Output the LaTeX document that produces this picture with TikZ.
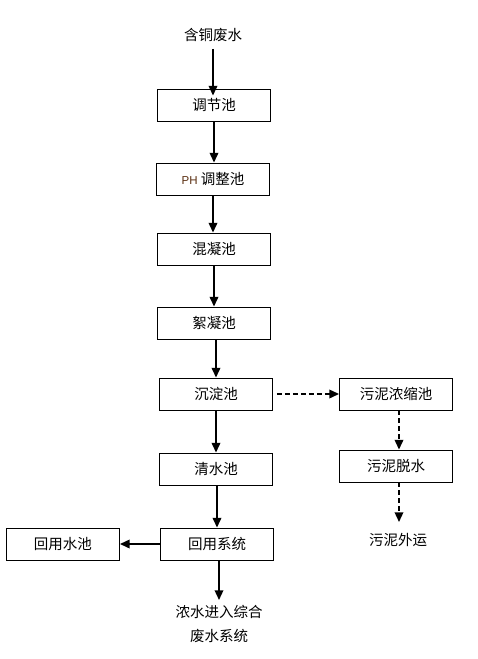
\documentclass[tikz,border=0pt]{standalone}
\usepackage{fontspec}
\setmainfont{Noto Sans CJK SC}
\newfontfamily\latinfont{Liberation Sans}
\usetikzlibrary{
  arrows.meta,
  positioning
}
\definecolor{ink}{HTML}{000000}
\definecolor{phbrown}{HTML}{5A2E10}
\newcommand{\ph}{{\latinfont\fontsize{11.5}{12}\selectfont\color{phbrown}PH}}
\tikzset{
  flow/.style={
    -{Triangle[length=3.4mm,width=3mm]},
    line width=1.7pt,
    draw=ink
  },
  sludgeflow/.style={
    flow,
    dashed,
    dash pattern=on 5pt off 3pt
  },
  tank/.style={
    draw=ink,
    fill=white,
    line width=0.9pt,
    minimum width=113pt,
    minimum height=32pt,
    inner sep=0pt,
    font=\fontsize{14.5}{16}\selectfont
  },
  plain/.style={
    inner sep=0pt,
    align=center,
    font=\fontsize{14.5}{24}\selectfont
  }
}

\begin{document}
\begin{tikzpicture}[x=1pt, y=-1pt]
  \useasboundingbox (0,0) rectangle (477,659);
  \node[plain] (inflow) at (213,35) {含铜废水};
  \node[tank] (adjust) at (214,105) {调节池};
  \node[tank] (phadjust) at (213,179) {\ph\ 调整池};
  \node[tank] (coag) at (214,249) {混凝池};
  \node[tank] (floc) at (214,323) {絮凝池};
  \node[tank] (settle) at (216,394) {沉淀池};
  \node[tank] (clear) at (216,469) {清水池};
  \node[tank] (reuse) at (217,544) {回用系统};
  \node[tank] (reusetank) at (63,544) {回用水池};
  \node[plain] (brine) at (219,624) {浓水进入综合\\废水系统};
  \node[tank] (thicken) at (396,394) {污泥浓缩池};
  \node[tank] (dewater) at (396,466) {污泥脱水};
  \node[plain] (haul) at (398,540) {污泥外运};

  % helper ends for the open arrows
  \coordinate (brinetop) at (219,600);
  \coordinate (haultop) at (399,522);

  \draw[flow] ([yshift=-7pt]inflow.south) -- ([yshift=-7pt]inflow.south |- adjust.north);
  \draw[flow] (adjust.south) -- (adjust.south |- phadjust.north);
  \draw[flow] (phadjust.south) -- (phadjust.south |- coag.north);
  \draw[flow] (coag.south) -- (floc.north);
  \draw[flow] ([xshift=2pt]floc.south) -- ([xshift=2pt]floc.south |- settle.north);
  \draw[flow] (settle.south) -- (clear.north);
  \draw[flow] ([xshift=1pt]clear.south) -- ([xshift=1pt]clear.south |- reuse.north);
  \draw[flow] (reuse.west) -- (reusetank.east);
  \draw[flow] (reuse.south -| brinetop) -- (brinetop);
  \draw[sludgeflow] ([xshift=4pt]settle.east) -- (thicken.west);
  \draw[sludgeflow] ([xshift=3pt]thicken.south) -- ([xshift=3pt]dewater.north);
  \draw[sludgeflow] (dewater.south -| haultop) -- (haultop);
\end{tikzpicture}
\end{document}
